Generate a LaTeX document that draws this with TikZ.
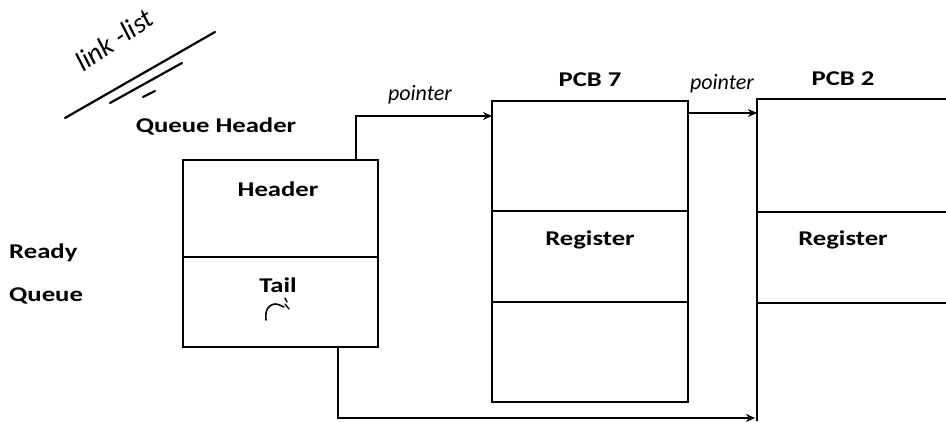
\documentclass[tikz,border=0pt]{standalone}
\usepackage{fontspec}
\setmainfont[FakeStretch=1.27]{Carlito}
\newfontfamily\handfont{Carlito}
\usetikzlibrary{arrows.meta}
\begin{document}
\begin{tikzpicture}[x=1pt,y=-1pt,
  box/.style={line width=1.8pt},
  conn/.style={line width=1.8pt,-{Stealth[length=9pt,width=8pt]}},
  lbl/.style={font=\fontsize{21}{24}\selectfont\bfseries, inner sep=0pt},
  hand/.style={font=\handfont\fontsize{22}{26}\selectfont\itshape, inner sep=0pt},
  pen/.style={line width=2.2pt, line cap=round}]
\useasboundingbox (0,0) rectangle (946,421);
\fill[white] (0,0) rectangle (946,421);

% handwritten note
\node[hand, font=\handfont\fontsize{28}{32}\selectfont\itshape, rotate=34] (note) at (114,40) {link -list};
\draw[pen] (65,118) -- (215,32);
\draw[pen] (110,103) -- (182,63);
\draw[pen] (143,97) -- (155,91);

% queue header box
\node[lbl] (qh) at (216,126) {Queue Header};
\coordinate (qtl) at (183,160);
\coordinate (qbr) at (378,347);
\draw[box] (qtl) rectangle (qbr);
\draw[box] (183,257) -- (378,257);
\node[lbl] (hdr) at (278,189) {Header};
\node[lbl] (tail) at (278,285) {Tail};
\draw[line width=1.6pt, line cap=round] (266,320) .. controls (265,310) and (268,305) .. (275,304) .. controls (279,304) and (281,306) .. (284,307);
\draw[line width=1.4pt, line cap=round] (285,298) -- (287,302) (285,304) -- (289,309);

% ready queue
\node[lbl, anchor=west] (rdy) at (9,253) {Ready};
\node[lbl, anchor=west] (que) at (9,296) {Queue};

% PCB 7
\node[lbl] (p7) at (590,80) {PCB 7};
\draw[box] (492,101) rectangle (688,402);
\draw[box] (492,211) -- (688,211);
\draw[box] (492,302) -- (688,302);
\node[lbl] (reg7) at (590,240) {Register};
\coordinate (p7l) at (492,116);
\coordinate (p7r) at (688,113);

% PCB 2 (cut off)
\node[lbl] (p2) at (843,79) {PCB 2};
\draw[box] (946,99) -- (757,99) -- (757,421);
\draw[box] (757,212) -- (946,212);
\draw[box] (757,303) -- (946,303);
\node[lbl] (reg2) at (843,240) {Register};
\coordinate (p2l) at (757,113);
\coordinate (p2b) at (755,418);

% connectors
\coordinate (qtop) at (356,160);
\coordinate (qbot) at (338,347);
\draw[conn] (qtop) |- (p7l);
\node[hand] (ptr1) at (420,95) {pointer};
\draw[conn] (p7r) -- (p2l);
\node[hand] (ptr2) at (722,84) {pointer};
\draw[conn] (qbot) |- (p2b);
\end{tikzpicture}
\end{document}
